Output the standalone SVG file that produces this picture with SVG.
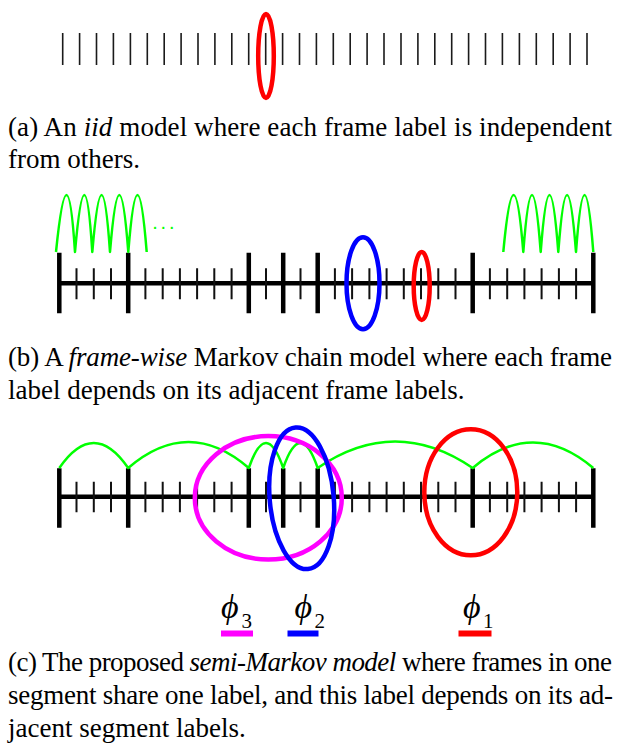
<svg xmlns="http://www.w3.org/2000/svg" width="625" height="743" viewBox="0 0 625 743">
<style>
.bg{fill:#fff}
.tick{stroke:#1a1a1a;stroke-width:1.6;fill:none}
.axis{stroke:#000;stroke-width:4.5;fill:none}
.major{stroke:#000;stroke-width:4.5;fill:none}
.minor{stroke:#111;stroke-width:2;fill:none}
.green{fill:none;stroke:#00ff00;stroke-width:2.5;stroke-linejoin:round}
.ell{fill:none;stroke-width:4.5}
.red{stroke:#ff0000}
.blue{stroke:#0000ff}
.mag{stroke:#ff00ff}
.cap{font-family:"Liberation Serif","Times New Roman",serif;font-size:27px;fill:#000}
.phi{font-family:"Liberation Serif","DejaVu Serif",serif;font-style:italic;font-size:34px;fill:#000}
.sub{font-family:"Liberation Serif","DejaVu Serif",serif;font-size:21px;fill:#000}
</style>
<rect class="bg" x="0" y="0" width="625" height="743"/>

<!-- Panel (a) -->
<g id="panel-a">
<path id="a-frames" class="tick" d="M62.7 33V65M79.6 33V65M96.5 33V65M113.4 33V65M130.4 33V65M147.3 33V65M164.2 33V65M181.1 33V65M198 33V65M214.9 33V65M231.8 33V65M248.7 33V65M265.7 33V65M282.6 33V65M299.5 33V65M316.4 33V65M333.3 33V65M350.2 33V65M367.1 33V65M384 33V65M401 33V65M417.9 33V65M434.8 33V65M451.7 33V65M468.6 33V65M485.5 33V65M502.4 33V65M519.4 33V65M536.3 33V65M553.2 33V65M570.1 33V65M587 33V65"/>
<g id="a-label"><ellipse class="ell red" cx="266" cy="56" rx="7.8" ry="42" stroke-width="4"/></g>
</g>
<text class="cap" x="8" y="136" textLength="604" lengthAdjust="spacing">(a) An <tspan font-style="italic">iid</tspan> model where each frame label is independent</text>
<text class="cap" x="8" y="168">from others.</text>

<!-- Panel (b) -->
<g id="panel-b">
<g id="b-axis">
<path class="axis" d="M59.3 283.3H593.3"/>
<path class="major" d="M59.3 252.7V313.3M128.2 252.7V313.3M248.8 252.7V313.3M283.2 252.7V313.3M317.7 252.7V313.3M472.7 252.7V313.3M593.3 252.7V313.3"/>
<path class="minor" d="M76.5 268.3V299.3M93.8 268.3V299.3M111 268.3V299.3M145.4 268.3V299.3M162.7 268.3V299.3M179.9 268.3V299.3M197.1 268.3V299.3M214.3 268.3V299.3M231.6 268.3V299.3M266 268.3V299.3M300.5 268.3V299.3M334.9 268.3V299.3M352.1 268.3V299.3M369.4 268.3V299.3M386.6 268.3V299.3M403.8 268.3V299.3M421 268.3V299.3M438.3 268.3V299.3M455.5 268.3V299.3M489.9 268.3V299.3M507.2 268.3V299.3M524.4 268.3V299.3M541.6 268.3V299.3M558.9 268.3V299.3M576.1 268.3V299.3"/>
</g>
<g id="b-connectors">
<path class="green" d="M56 252 Q67.5 138 75 252 Q85 138 92.3 252 Q102 138 110 252 Q119.5 138 128.3 252 Q137.5 138 146.7 252"/>
<text x="152.2" y="228.5" font-family="Liberation Sans, Arial, sans-serif" font-size="20" letter-spacing="2.8" fill="#00ff00">...</text>
<path class="green" d="M503.3 252 Q514 138 523.3 252 Q532 138 540.7 252 Q549.5 138 558.3 252 Q567 138 576 252 Q584.5 138 593.3 252"/>
</g>
<g id="b-blue"><ellipse class="ell blue" cx="363" cy="283.3" rx="16.5" ry="46"/></g>
<g id="b-red"><ellipse class="ell red" cx="421.7" cy="286" rx="8" ry="34" stroke-width="4"/></g>
</g>
<text class="cap" x="8" y="366" textLength="604" lengthAdjust="spacing">(b) A <tspan font-style="italic">frame-wise</tspan> Markov chain model where each frame</text>
<text class="cap" x="8" y="399">label depends on its adjacent frame labels.</text>

<!-- Panel (c) -->
<g id="panel-c">
<g id="c-axis">
<path class="axis" d="M59.3 496.7H593.3"/>
<path class="major" d="M59.3 468.3V527.7M128.2 468.3V527.7M248.8 468.3V527.7M283.2 468.3V527.7M317.7 468.3V527.7M472.7 468.3V527.7M593.3 468.3V527.7"/>
<path class="minor" d="M76.5 481.7V512.3M93.8 481.7V512.3M111 481.7V512.3M145.4 481.7V512.3M162.7 481.7V512.3M179.9 481.7V512.3M197.1 481.7V512.3M214.3 481.7V512.3M231.6 481.7V512.3M266 481.7V512.3M300.5 481.7V512.3M334.9 481.7V512.3M352.1 481.7V512.3M369.4 481.7V512.3M386.6 481.7V512.3M403.8 481.7V512.3M421 481.7V512.3M438.3 481.7V512.3M455.5 481.7V512.3M489.9 481.7V512.3M507.2 481.7V512.3M524.4 481.7V512.3M541.6 481.7V512.3M558.9 481.7V512.3M576.1 481.7V512.3"/>
</g>
<g id="c-connectors">
<path class="green" d="M59.3 468 Q93.8 418 128.2 468 Q188.5 416 248.8 468 Q266 418 283.2 468 Q300.5 418 317.7 468 Q395 415 472.7 468 Q533 417 593.3 468"/>
</g>
<g id="segment-3"><ellipse class="ell mag" cx="268.3" cy="497.8" rx="73.5" ry="61.7"/></g>
<g id="segment-2"><ellipse class="ell blue" cx="301.7" cy="498.3" rx="32" ry="71" transform="rotate(-5 301.7 498.3)"/></g>
<g id="segment-1"><ellipse class="ell red" cx="470.8" cy="492.3" rx="46.5" ry="63" stroke-width="4"/></g>
<g id="phi-3">
<text class="phi" x="221" y="618">ϕ</text><text class="sub" x="241.5" y="628">3</text>
<rect x="221" y="630.5" width="32" height="6" fill="#ff00ff"/>
</g>
<g id="phi-2">
<text class="phi" x="294.5" y="618">ϕ</text><text class="sub" x="314.5" y="628">2</text>
<rect x="287.5" y="630.5" width="31" height="6" fill="#0000ff"/>
</g>
<g id="phi-1">
<text class="phi" x="463" y="618">ϕ</text><text class="sub" x="483" y="628">1</text>
<rect x="458.5" y="630.5" width="33" height="6" fill="#ff0000"/>
</g>
</g>
<text class="cap" x="8" y="671" textLength="604" lengthAdjust="spacing">(c) The proposed <tspan font-style="italic">semi-Markov model</tspan> where frames in one</text>
<text class="cap" x="8" y="704" textLength="605" lengthAdjust="spacing">segment share one label, and this label depends on its ad-</text>
<text class="cap" x="8" y="737">jacent segment labels.</text>
</svg>
